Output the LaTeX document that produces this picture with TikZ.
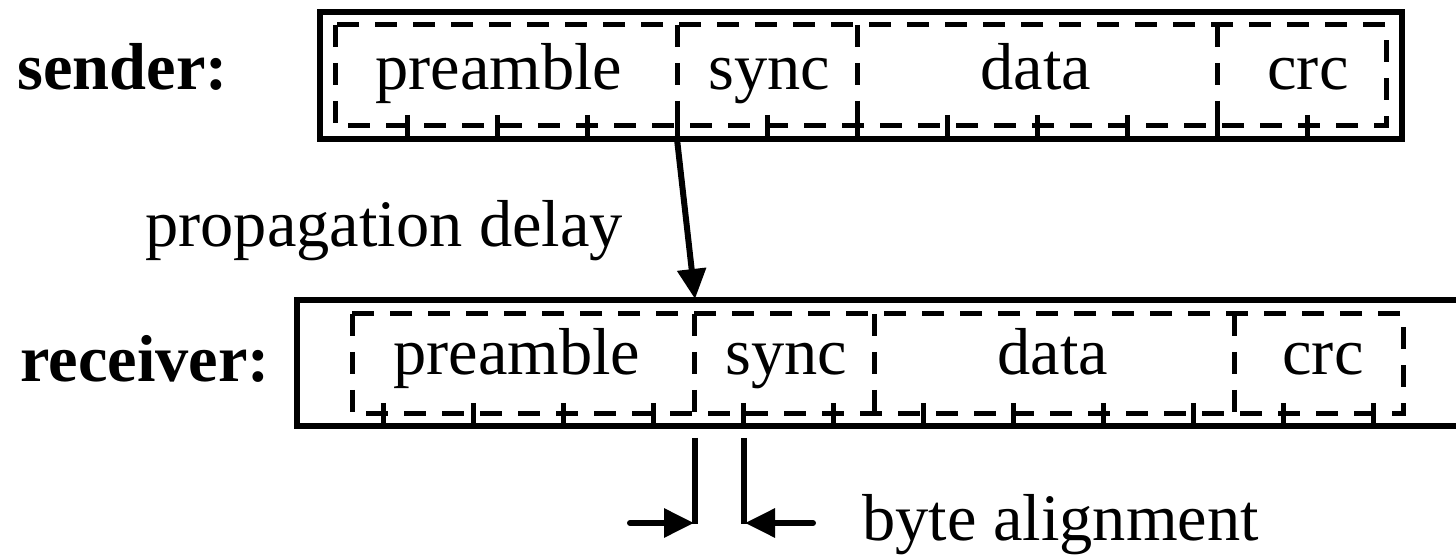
\documentclass[tikz,border=0pt]{standalone}
\usepackage{fontspec}
\setmainfont{Liberation Serif}
\usetikzlibrary{arrows.meta}
\begin{document}
\begin{tikzpicture}[x=0.5pt,y=-0.5pt,
  outer/.style={line width=3.2pt},
  field/.style={line width=2.5pt, dash pattern=on 11pt off 8pt},
  tickmark/.style={line width=2.5pt},
  lbl/.style={font=\fontsize{33.2}{40}\selectfont, inner sep=0pt, anchor=base west},
  head/.style={lbl, font=\fontsize{33.2}{40}\selectfont\bfseries},
  arr/.style={line width=3pt, line cap=round, -{Triangle[length=15pt,width=14pt]}},
  guide/.style={line width=2.6pt}]
\useasboundingbox (0,0) rectangle (1456,555);
\clip (0,0) rectangle (1456,555);
\fill[white] (0,0) rectangle (1456,555);

% ---- sender frame ----
\draw[outer] (320,12) rectangle (1402,139);
\draw[field] (335,25) rectangle (1386,126);
\foreach \x in {677,857,1217}
  \draw[field] (\x,25) -- (\x,126);
\foreach \k in {0,...,10}
  \draw[tickmark] ({407+90*\k},115) -- ({407+90*\k},139);

% ---- receiver frame (runs on past the right edge) ----
\draw[outer] (1480,300) -- (297,300) -- (297,426) -- (1480,426);
\draw[field] (352,314) rectangle (1403,414);
\foreach \x in {694,874,1234}
  \draw[field] (\x,314) -- (\x,414);
\foreach \k in {0,...,11}
  \draw[tickmark] ({383+90*\k},403) -- ({383+90*\k},426);

% ---- labels ----
\node[head] (sender) at (17,90) {sender:};
\node[head] (receiver) at (20,382) {receiver:};
\node[lbl] (s-pre)  at (375,90) {preamble};
\node[lbl] (s-sync) at (708,90) {sync};
\node[lbl] (s-data) at (980,90) {data};
\node[lbl] (s-crc)  at (1267,90) {crc};
\node[lbl] (r-pre)  at (393,375) {preamble};
\node[lbl] (r-sync) at (725,375) {sync};
\node[lbl] (r-data) at (997,375) {data};
\node[lbl] (r-crc)  at (1282,375) {crc};
\node[lbl] (prop) at (145,247) {propagation delay};
\node[lbl] (align) at (862,540) {byte alignment};

% ---- propagation delay arrow ----
\coordinate (s-start) at (677,139);
\coordinate (r-start) at (695,299);
\draw[arr] (s-start) -- (r-start);

% ---- byte alignment marker ----
\coordinate (g1-top) at (695,438);
\coordinate (g1-bot) at (695,524);
\coordinate (g2-top) at (744,438);
\coordinate (g2-bot) at (744,524);
\draw[guide] (g1-top) -- (g1-bot);
\draw[guide] (g2-top) -- (g2-bot);
\coordinate (a1) at (630,523);
\coordinate (a1-tip) at (694,523);
\coordinate (a2) at (813,523);
\coordinate (a2-tip) at (745,523);
\draw[arr] (a1) -- (a1-tip);
\draw[arr] (a2) -- (a2-tip);
\end{tikzpicture}
\end{document}
